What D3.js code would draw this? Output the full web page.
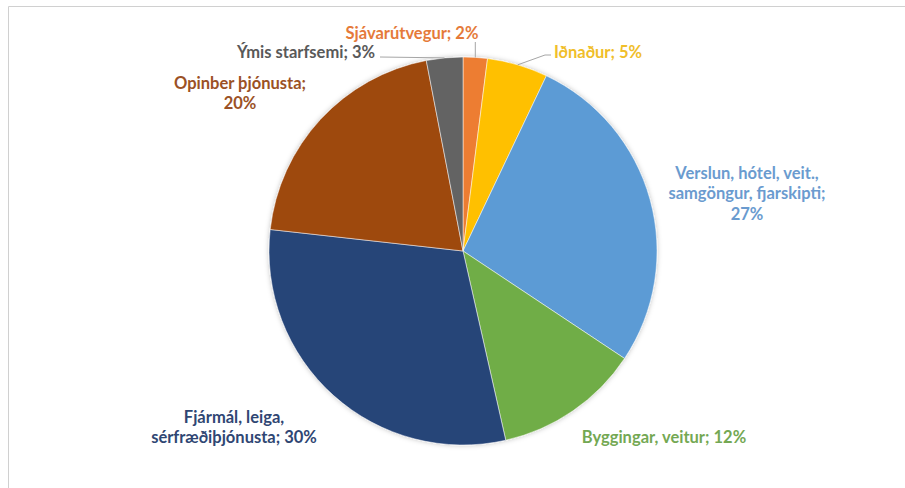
<!DOCTYPE html>
<meta charset="utf-8">
<style>
body { margin: 0; background: #fff; }
svg { display: block; background: #fff; }
.lbl { font-family: Lato, "Open Sans", sans-serif; font-weight: 700; font-size: 16.5px; }
.leader { fill: none; stroke: #a6a6a6; stroke-width: 1; }
</style>
<svg width="905" height="488"></svg>
<script src="https://cdn.jsdelivr.net/npm/d3@7"></script>
<script>

// sectors, clockwise from 12 o'clock
var sectors = ["Sjávarútvegur", "Iðnaður", "Verslun, hótel, veit., samgöngur, fjarskipti",
               "Byggingar, veitur", "Fjármál, leiga, sérfræðiþjónusta", "Opinber þjónusta", "Ýmis starfsemi"];
var shares = [2, 5, 27, 12, 30, 20, 3];

var sliceColors = ["#ED7D31", "#FFC000", "#5B9BD5", "#70AD47", "#264478", "#9E480E", "#636363"];
var textColors  = ["#E57A3A", "#F0BE2A", "#6A9BCF", "#74A853", "#2F4673", "#9B5125", "#595959"];

// where each label sits (centre x, centre of first line) and how wide it may wrap
var labelAt = {
  "Sjávarútvegur": {x: 412, y: 33, wrap: 400},
  "Iðnaður": {x: 598, y: 52, wrap: 400},
  "Verslun, hótel, veit., samgöngur, fjarskipti": {x: 747, y: 173, wrap: 180},
  "Byggingar, veitur": {x: 664, y: 437, wrap: 400},
  "Fjármál, leiga, sérfræðiþjónusta": {x: 234, y: 417, wrap: 190},
  "Opinber þjónusta": {x: 240, y: 83, wrap: 150},
  "Ýmis starfsemi": {x: 306, y: 52, wrap: 400}
};

// leader lines: from point near the label to the slice edge (0 = use edge x)
var leaders = {
  "Sjávarútvegur": [[0, 42]],
  "Iðnaður": [[551, 55], [545, 55]],
  "Ýmis starfsemi": [[380, 57]]
};

var svg = d3.select("svg"),
    cx = 463, cy = 251, r = 194;

// chart frame
svg.append("path")
    .attr("d", "M8.5,488 V6.5 H905")
    .attr("fill", "none")
    .attr("stroke", "#d0d0d0");

var defs = svg.append("defs");
var f = defs.append("filter").attr("id", "glow")
    .attr("x", "-10%").attr("y", "-10%").attr("width", "120%").attr("height", "120%");
f.append("feDropShadow").attr("dx", 0).attr("dy", 0).attr("stdDeviation", 2.5)
    .attr("flood-color", "#000").attr("flood-opacity", 0.25);

var data = sectors.map(function(s, i) { return {name: s, value: shares[i], i: i}; });

var pie = d3.pie().sort(null).value(function(d) { return d.value; });
var arc = d3.arc().innerRadius(0).outerRadius(r);
var edge = d3.arc().innerRadius(r).outerRadius(r);

var arcs = pie(data);

var g = svg.append("g").attr("transform", "translate(" + cx + "," + cy + ")");

g.append("g").attr("filter", "url(#glow)")
  .selectAll("path")
  .data(arcs)
  .enter().append("path")
    .attr("d", arc)
    .attr("fill", function(d) { return sliceColors[d.data.i]; })
    .attr("stroke", "#fff")
    .attr("stroke-width", 0.5);

// leader lines
arcs.forEach(function(a) {
  var pts = leaders[a.data.name];
  if (!pts) return;
  var e = edge.centroid(a);
  var ex = cx + e[0], ey = cy + e[1];
  var line = pts.map(function(p) { return [p[0] === 0 ? ex : p[0], p[1]]; });
  line.push([ex, ey]);
  svg.append("path").attr("class", "leader").attr("d", d3.line()(line));
});

// labels
arcs.forEach(function(a) {
  var d = a.data, pos = labelAt[d.name];
  var words = (d.name + "; " + d.value + "%").split(" ");
  var t = svg.append("text").attr("class", "lbl")
      .attr("text-anchor", "middle")
      .attr("fill", textColors[d.i]);
  var lines = [], cur = [];
  var probe = svg.append("text").attr("class", "lbl");
  words.forEach(function(w) {
    var test = cur.concat([w]).join(" ");
    probe.text(test);
    if (cur.length && probe.node().getComputedTextLength() > pos.wrap) {
      lines.push(cur.join(" "));
      cur = [w];
    } else {
      cur.push(w);
    }
  });
  lines.push(cur.join(" "));
  probe.remove();
  lines.forEach(function(l, k) {
    t.append("tspan")
        .attr("x", pos.x)
        .attr("y", pos.y + k * 20.5)
        .attr("dy", "0.35em")
        .text(l);
  });
});

</script>
